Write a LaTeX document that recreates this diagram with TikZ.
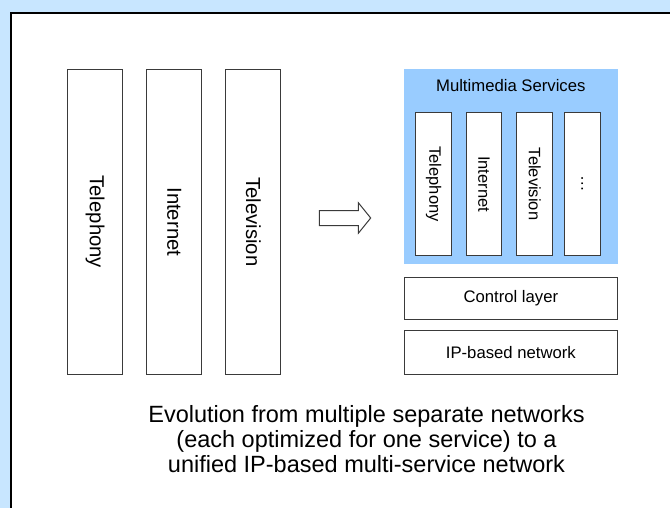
\documentclass[tikz,border=0pt]{standalone}
\usepackage{graphicx}
\usepackage{fontspec}
\setmainfont{Liberation Sans}
\definecolor{bgblue}{HTML}{C8E6FF}
\definecolor{svcblue}{HTML}{99CCFF}
\definecolor{boxline}{HTML}{3A3A3A}
\begin{document}
\begin{tikzpicture}[x=1pt,y=-1pt,
  col/.style={draw=boxline, line width=1pt, fill=white, inner sep=0pt, minimum width=55pt, minimum height=305pt, font=\fontsize{20.3}{22}\selectfont},
  icol/.style={draw=boxline, line width=1pt, fill=white, inner sep=0pt, minimum width=35.7pt, minimum height=143.4pt, font=\fontsize{16.5}{18}\selectfont},
  layer/.style={draw=boxline, line width=1pt, fill=white, inner sep=0pt, minimum width=213.7pt, font=\fontsize{16.7}{18}\selectfont},
  caption/.style={align=center, inner sep=0pt, font=\fontsize{23.5}{25}\selectfont}]
\useasboundingbox (0,0) rectangle (670,508);
\clip (0,0) rectangle (670,508);
\fill[bgblue] (0,0) rectangle (670,508);
\draw[line width=2.2pt, fill=white] (11,13) rectangle (720,560);
% left columns
\node[col] (tel) at (95,221.8) {\rotatebox{-90}{Telephony}};
\node[col] (inet) at (174.2,221.8) {\rotatebox{-90}{Internet}};
\node[col] (tv) at (253.3,221.8) {\rotatebox{-90}{Television}};
% arrow
\draw[boxline, line width=1pt, fill=white, line join=miter] (319.3,210.7) -- (358.3,210.7) -- (358.3,202.7) -- (370.7,218) -- (358.3,233.3) -- (358.3,225.7) -- (319.3,225.7) -- cycle;
% multimedia services region
\node[fill=svcblue, inner sep=0pt, minimum width=213.7pt, minimum height=194.7pt] (mms) at (510.85,166.35) {};
\node[inner sep=0pt, font=\fontsize{16.7}{18}\selectfont] (mmst) at (510.8,86) {Multimedia Services};
\node[icol] (itel) at (433.7,184) {\rotatebox{-90}{Telephony}};
\node[icol] (iinet) at (484,184) {\rotatebox{-90}{Internet}};
\node[icol] (itv) at (534.7,184) {\rotatebox{-90}{Television}};
\node[icol] (idots) at (582.2,184) {\rotatebox{-90}{\dots}};
% layers
\node[layer, minimum height=41.7pt] (ctrl) at (510.85,298.2) {Control layer};
\node[layer, minimum height=44.4pt] (ipnet) at (510.85,352.5) {IP-based network};
% caption
\node[caption] (cap) at (366.5,439) {Evolution from multiple separate networks\\(each optimized for one service) to a\\unified IP-based multi-service network};
\end{tikzpicture}
\end{document}
